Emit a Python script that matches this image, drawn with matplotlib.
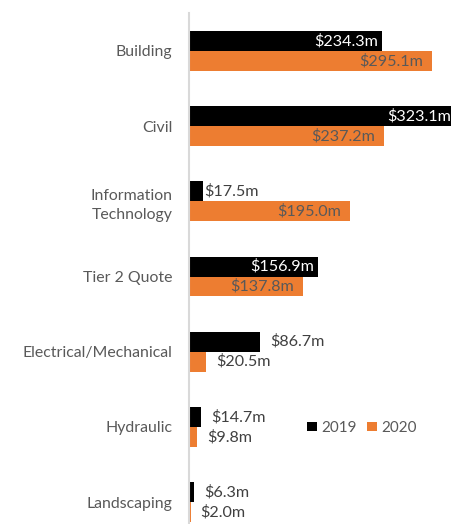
import matplotlib
matplotlib.use("Agg")
import matplotlib.pyplot as plt
from matplotlib.transforms import offset_copy
import numpy as np

categories = ["Building", "Civil", "Information\nTechnology", "Tier 2 Quote",
              "Electrical/Mechanical", "Hydraulic", "Landscaping"]
values_2019 = [234.3, 323.1, 17.5, 156.9, 86.7, 14.7, 6.3]
values_2020 = [295.1, 237.2, 195.0, 137.8, 20.5, 9.8, 2.0]
series_names = ["2019", "2020"]

COL19 = "#000000"
COL20 = "#ED7D31"
GREY = "#595959"
FONT = ["Lato", "DejaVu Sans"]

W, H = 452, 524
fig = plt.figure(figsize=(W / 100, H / 100), dpi=100)
left, right = 189, 455.6
top, bottom = 13.4, 539.6
ax = fig.add_axes([left / W, 1 - bottom / H, (right - left) / W, (bottom - top) / H])

n = len(categories)
y = np.arange(n)
h = 0.266
ax.barh(y - h / 2, values_2019, height=h, color=COL19, label=series_names[0])
ax.barh(y + h / 2, values_2020, height=h, color=COL20, label=series_names[1])

ax.set_xlim(0, 323.6)
ax.set_ylim(n - 0.5, -0.5)

for s in ["top", "right", "bottom"]:
    ax.spines[s].set_visible(False)
ax.spines["left"].set_color("#d9d9d9")
ax.spines["left"].set_linewidth(1.5)
ax.set_xticks([])
ax.set_yticks(y)
ax.set_yticklabels(categories, fontsize=11.4, color=GREY, family=FONT, linespacing=1.45)
ax.tick_params(axis="y", length=0, pad=12)

special_gap = {2: 1}  # index of 2019 label placed tight against bar
VFS = 11.6


def label(v, yy, inside_color, pad_in, idx, series):
    txt = f"${v:.1f}m"
    if v >= 100:
        tr = offset_copy(ax.transData, fig=fig, x=pad_in, y=0, units="dots")
        ax.text(v, yy, txt, transform=tr, ha="right", va="center",
                fontsize=VFS, color=inside_color, family=FONT)
    else:
        gap = 10
        if series == 0 and idx in special_gap:
            gap = special_gap[idx]
        tr = offset_copy(ax.transData, fig=fig, x=gap, y=0, units="dots")
        ax.text(v, yy, txt, transform=tr, ha="left", va="center",
                fontsize=VFS, color="#404040", family=FONT)


for i in range(n):
    label(values_2019[i], y[i] - h / 2, "white", -4, i, 0)
    label(values_2020[i], y[i] + h / 2, GREY, -9, i, 1)

leg = fig.legend(loc="center", bbox_to_anchor=(362 / W, 1 - 428 / H), ncol=2,
                 frameon=False, handlelength=0.6, handleheight=0.6,
                 handletextpad=0.3, columnspacing=0.7,
                 prop={"family": FONT, "size": 11})
for t in leg.get_texts():
    t.set_color(GREY)

fig.savefig("out.png", dpi=100)
